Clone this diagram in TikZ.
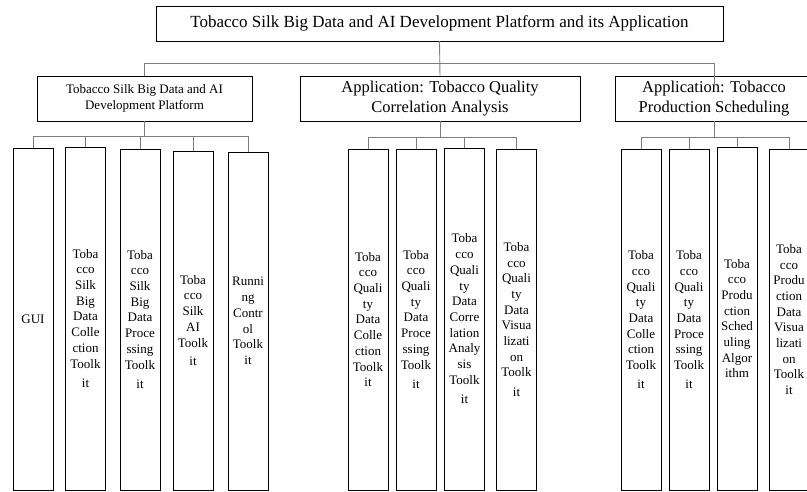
\documentclass[tikz,border=0pt]{standalone}
\usepackage{fontspec}
\setmainfont{Liberation Serif}
\definecolor{connc}{RGB}{125,125,125}
\begin{document}
\begin{tikzpicture}[x=1pt,y=-1pt,
  box/.style={draw=black,line width=0.9pt,inner sep=0pt,outer sep=0pt,align=center},
  leaf/.style={box,minimum width=40pt,text width=40pt,font=\fontsize{13}{15.7}\selectfont},
  conn/.style={draw=connc,line width=0.9pt}]
\useasboundingbox (0,0) rectangle (807,491);
\clip (0,0) rectangle (807,491);
% root
\node[box,minimum width=567pt,minimum height=35pt,font=\fontsize{17}{20}\selectfont] (top) at (439.5,23.5)
  {Tobacco Silk Big Data and AI Development Platform and its Application};
% level 2
\node[box,minimum width=215pt,minimum height=45pt,font=\fontsize{13}{16}\selectfont] (plat) at (144.5,98.5)
  {Tobacco Silk Big Data and AI\\Development Platform};
\node[box,minimum width=280pt,minimum height=45pt,font=\fontsize{16.5}{20.5}\selectfont] (corr) at (440,98.5)
  {Application: Tobacco Quality\\Correlation Analysis};
\node[box,minimum width=198pt,minimum height=45pt,font=\fontsize{16.5}{20}\selectfont] (sched) at (714,98.5)
  {Application: Tobacco\\Production Scheduling};
% leaves, platform
\node[leaf,minimum height=342pt] (l1) at (33,319) {GUI};
\node[leaf,minimum height=343pt] (l2) at (85.5,318.5) {Toba\\cco\\Silk\\Big\\Data\\Colle\\ction\\Toolk\\[4pt]it};
\node[leaf,minimum height=341pt] (l3) at (140,319.5) {Toba\\cco\\Silk\\Big\\Data\\Proce\\ssing\\Toolk\\[4pt]it};
\node[leaf,minimum height=339pt] (l4) at (193,320.5) {Toba\\cco\\Silk\\AI\\Toolk\\[3pt]it};
\node[leaf,minimum height=338pt] (l5) at (248,321) {Runni\\ng\\Contr\\ol\\Toolk\\it};
% leaves, correlation
\node[leaf,minimum height=341pt] (m1) at (368,319.5) {Toba\\cco\\Quali\\ty\\Data\\Colle\\ction\\Toolk\\it};
\node[leaf,minimum height=341pt] (m2) at (416,319.5) {Toba\\cco\\Quali\\ty\\Data\\Proce\\ssing\\Toolk\\[4pt]it};
\node[leaf,minimum height=342pt] (m3) at (464.5,319) {Toba\\cco\\Quali\\ty\\Data\\Corre\\lation\\Analy\\sis\\Toolk\\[4pt]it};
\node[leaf,minimum height=341pt] (m4) at (516.5,319.5) {Toba\\cco\\Quali\\ty\\Data\\Visua\\lizati\\on\\Toolk\\[4pt]it};
% leaves, scheduling
\node[leaf,minimum height=341pt] (r1) at (641,319.5) {Toba\\cco\\Quali\\ty\\Data\\Colle\\ction\\Toolk\\[3pt]it};
\node[leaf,minimum height=341pt] (r2) at (689,319.5) {Toba\\cco\\Quali\\ty\\Data\\Proce\\ssing\\Toolk\\[3pt]it};
\node[leaf,minimum height=343pt] (r3) at (737,318.5) {Toba\\cco\\Produ\\ction\\Sched\\uling\\Algor\\ithm};
\node[leaf,minimum height=341pt] (r4) at (789,319.5) {Toba\\cco\\Produ\\ction\\Data\\Visua\\lizati\\on\\Toolk\\it};
% root bus
\coordinate (busL) at (144.5,63);
\coordinate (busR) at (714,63);
\coordinate (schedIn) at (714,87);
\draw[conn] (top.south) -- (corr.north);
\draw[conn] (busL) -- (busR);
\draw[conn] (busL) -- (plat.north);
\draw[conn] (busR) -- (schedIn);
% platform bus
\coordinate (pb) at (0,136);
\draw[conn] (plat.south) -- (plat.south |- pb);
\draw[conn] (l1.north |- pb) -- (l5.north |- pb);
\foreach \n in {l1,l2,l3,l4,l5} \draw[conn] (\n.north |- pb) -- (\n.north);
% correlation bus
\coordinate (cb) at (0,137);
\draw[conn] (corr.south) -- (corr.south |- cb);
\draw[conn] (m1.north |- cb) -- (m4.north |- cb);
\foreach \n in {m1,m2,m3,m4} \draw[conn] (\n.north |- cb) -- (\n.north);
% scheduling bus
\coordinate (sb) at (0,137);
\draw[conn] (sched.south) -- (sched.south |- sb);
\draw[conn] (r1.north |- sb) -- (r4.north |- sb);
\foreach \n in {r1,r2,r3,r4} \draw[conn] (\n.north |- sb) -- (\n.north);
\end{tikzpicture}
\end{document}
